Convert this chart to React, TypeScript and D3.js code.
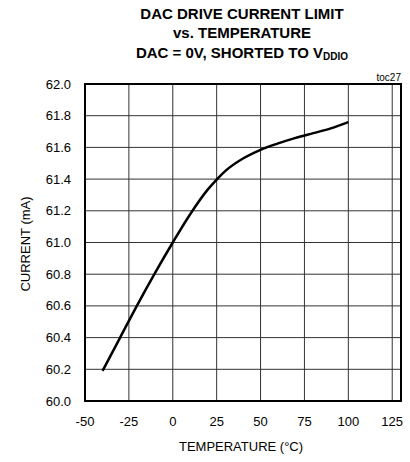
import React from "react";
import * as d3 from "d3";

const temps = [-40, -30, -20, -10, 0, 10, 20, 25, 30, 40, 50, 60, 70, 80, 90, 100];
const current = [60.19, 60.4, 60.61, 60.81, 61.0, 61.18, 61.335, 61.397, 61.452, 61.53, 61.585, 61.625, 61.66, 61.69, 61.72, 61.76];
const xTicks = [-50, -25, 0, 25, 50, 75, 100, 125];
const yTicks = [60.0, 60.2, 60.4, 60.6, 60.8, 61.0, 61.2, 61.4, 61.6, 61.8, 62.0];

const FONT = "'Liberation Sans Narrow', 'Liberation Sans', Arial, sans-serif";

export default function App() {
  const W = 410, H = 462;
  const left = 85, right = 401, top = 84, bottom = 401;
  const x = d3.scaleLinear().domain([-50, 130]).range([left, right]);
  const y = d3.scaleLinear().domain([60, 62]).range([bottom, top]);
  const line = d3.line<number>().x((_, i) => x(temps[i])).y((d) => y(d)).curve(d3.curveMonotoneX);
  return (
    <svg width={W} height={H} style={{ position: "absolute", left: 0, top: 0 }} fontFamily={FONT}>
      <rect width={W} height={H} fill="#fff" />
      <g fontWeight="bold" fontSize={15} textAnchor="middle" fill="#000">
        <text x={242} y={19}>DAC DRIVE CURRENT LIMIT</text>
        <text x={242} y={38}>vs. TEMPERATURE</text>
        <text x={242} y={57.5}>
          DAC = 0V, SHORTED TO V<tspan fontSize={10} dy={2.5}>DDIO</tspan>
        </text>
      </g>
      <text x={401} y={80.5} fontSize={10} textAnchor="end">toc27</text>
      {xTicks.slice(1).map((t) => (
        <line key={"gx" + t} x1={x(t)} x2={x(t)} y1={top} y2={bottom} stroke="#333" strokeWidth={1} />
      ))}
      {yTicks.slice(1, -1).map((t) => (
        <line key={"gy" + t} x1={left} x2={right} y1={y(t)} y2={y(t)} stroke="#333" strokeWidth={1} />
      ))}
      <rect x={left} y={top} width={right - left} height={bottom - top} fill="none" stroke="#000" strokeWidth={2} />
      <path d={line(current) || ""} fill="none" stroke="#000" strokeWidth={2.5} />
      <g fontSize={13} fill="#000">
        {yTicks.map((t) => (
          <text key={"ty" + t} x={71} y={y(t)} dy="0.35em" textAnchor="end">{t.toFixed(1)}</text>
        ))}
        {xTicks.map((t) => (
          <text key={"tx" + t} x={x(t)} y={425.5} textAnchor="middle">{t}</text>
        ))}
      </g>
      <text x={241} y={451} fontSize={13} textAnchor="middle">TEMPERATURE (°C)</text>
      <text transform={`translate(29.5,244) rotate(-90)`} fontSize={13} textAnchor="middle">CURRENT (mA)</text>
    </svg>
  );
}
